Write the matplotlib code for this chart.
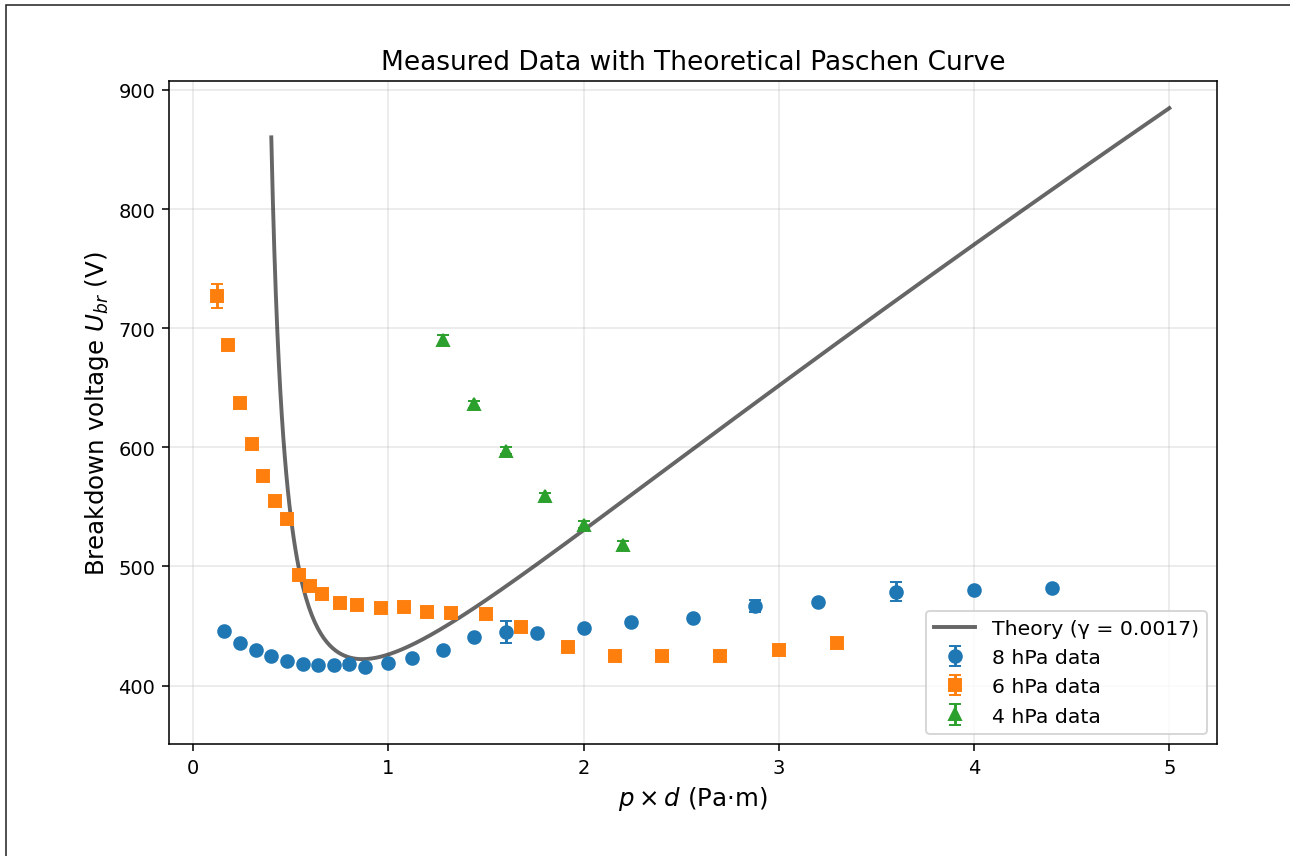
import numpy as np
import matplotlib.pyplot as plt
from matplotlib.patches import Rectangle

# 8 hPa measurements
pd_8 = [0.16, 0.24, 0.32, 0.40, 0.48, 0.56, 0.64, 0.72, 0.80, 0.88, 1.00, 1.12,
        1.28, 1.44, 1.60, 1.76, 2.00, 2.24, 2.56, 2.88, 3.20, 3.60, 4.00, 4.40]
u_8 = [446, 436, 430, 425, 421, 418, 417, 417, 418, 416, 419, 423,
       430, 441, 445, 444, 448, 453, 457, 467, 470, 479, 480, 482]
err_8 = [1.5, 1.5, 1.5, 1.5, 1.5, 1.5, 1.5, 1.5, 3, 1.5, 1.5, 1.5,
         1.5, 1.5, 9.5, 1.5, 1.5, 2.5, 1.5, 5, 2, 8, 1.5, 1.5]

# 6 hPa measurements
pd_6 = [0.12, 0.18, 0.24, 0.30, 0.36, 0.42, 0.48, 0.54, 0.60, 0.66, 0.75, 0.84,
        0.96, 1.08, 1.20, 1.32, 1.50, 1.68, 1.92, 2.16, 2.40, 2.70, 3.00, 3.30]
u_6 = [727, 686, 637, 603, 576, 555, 540, 493, 484, 477, 469, 468,
       465, 466, 462, 461, 460, 449, 432, 425, 425, 425, 430, 436]
err_6 = [10, 2, 2, 2, 2, 2, 2, 2, 2, 2, 2, 2,
         2, 2, 2, 2, 2, 2, 2, 2, 2, 2, 2, 2]

# 4 hPa measurements
pd_4 = [1.28, 1.44, 1.60, 1.80, 2.00, 2.20]
u_4 = [690, 636, 597, 559, 535, 518]
err_4 = [4, 3, 3, 3, 3, 3]

# Paschen constants
A = 20.0      # 1/(Pa m)
B = 487.0     # V/(Pa m)
gamma = 0.0017
pd_min, pd_max = 0.40, 5.0

pd_theory = np.linspace(pd_min, pd_max, 600)
u_theory = B * pd_theory / (np.log(A * pd_theory) - np.log(np.log(1 + 1 / gamma)))

fig = plt.figure(figsize=(1290 / 140, 857 / 140), dpi=140)
ax = fig.add_axes([169 / 1290, 1 - 745 / 857, (1217 - 169) / 1290, (745 - 82) / 857])

ax.plot(pd_theory, u_theory, color='k', alpha=0.6, lw=2, label=f'Theory (γ = {gamma})')
ax.errorbar(pd_8, u_8, yerr=err_8, fmt='o', ms=6.5, capsize=3, label='8 hPa data')
ax.errorbar(pd_6, u_6, yerr=err_6, fmt='s', ms=6.5, capsize=3, label='6 hPa data')
ax.errorbar(pd_4, u_4, yerr=err_4, fmt='^', ms=6.5, capsize=3, label='4 hPa data')

ax.set_ylim(351, 907.5)
ax.set_xlabel(r'$p \times d$ (Pa·m)', fontsize=12.6)
ax.set_ylabel(r'Breakdown voltage $U_{br}$ (V)', fontsize=12.6)
ax.set_title('Measured Data with Theoretical Paschen Curve', fontsize=13.6)
ax.grid(True, alpha=0.3)
ax.legend(loc='lower right', fontsize=10.5)

# outer frame of the original figure (only top and left edges visible)
fig.patches.append(Rectangle((6 / 1290, -0.5), 2, 1 - 6 / 857 + 0.5,
                             transform=fig.transFigure, fill=False,
                             edgecolor='#222222', lw=0.8))

fig.savefig('out.png', dpi=140)
